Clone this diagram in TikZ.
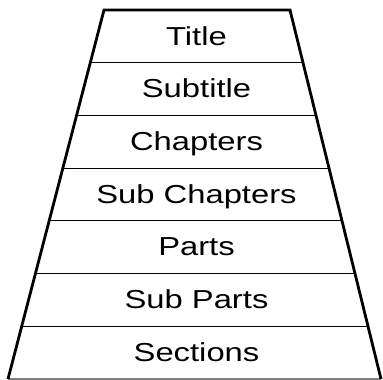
\documentclass[tikz,border=0pt]{standalone}
\usepackage{fontspec}
\setmainfont{Liberation Sans}
\usetikzlibrary{calc}
\newcommand{\wide}[1]{\scalebox{1.26}[1]{\fontsize{26}{30}\selectfont #1}}
\begin{document}
\begin{tikzpicture}[x=1pt,y=-1pt,
  outer/.style={line width=2.8pt, line join=miter},
  divider/.style={line width=1.1pt},
  lbl/.style={inner sep=0pt, anchor=base}]
\useasboundingbox (0,0) rectangle (383,380);
\coordinate (TL) at (104,10);
\coordinate (TR) at (290,10);
\coordinate (BL) at (8,379);
\coordinate (BR) at (381,379);
% dividers
\foreach \i in {1,...,6} {
  \draw[divider] ($(TL)!\i/7!(BL)$) -- ($(TR)!\i/7!(BR)$);
}
\draw[divider, gray] (BL) -- (BR);
\draw[outer] (BL) -- (TL) -- (TR) -- (BR);
\node[lbl] (t1) at (196.5,45.0) {\wide{Title}};
\node[lbl] (t2) at (196.5,97.7) {\wide{Subtitle}};
\node[lbl] (t3) at (196.5,150.4) {\wide{Chapters}};
\node[lbl] (t4) at (196.5,203.1) {\wide{Sub Chapters}};
\node[lbl] (t5) at (196.5,255.8) {\wide{Parts}};
\node[lbl] (t6) at (196.5,308.5) {\wide{Sub Parts}};
\node[lbl] (t7) at (196.5,361.2) {\wide{Sections}};
\end{tikzpicture}
\end{document}
